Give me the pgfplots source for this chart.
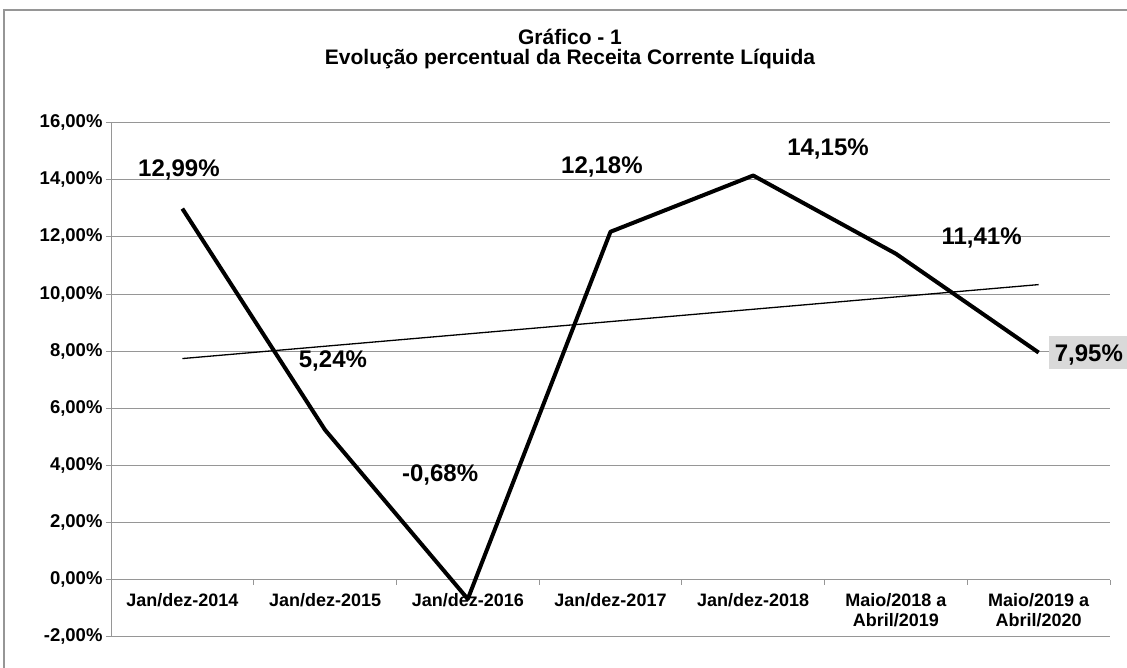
\documentclass[border=0pt]{standalone}
\usepackage{pgfplots}
\pgfplotsset{compat=1.18}
\usepackage{fontspec}
\setmainfont{Liberation Sans}[BoldFont={Liberation Sans Bold}]
\definecolor{gridgray}{RGB}{150,150,150}
\definecolor{boxgray}{RGB}{217,217,217}
\newcommand{\lblfont}{\bfseries\fontsize{24}{28}\selectfont}
\begin{document}
\begin{tikzpicture}[x=1pt,y=1pt]
\useasboundingbox (0,0) rectangle (1127,668);
\fill[white] (0,0) rectangle (1127,668);
\draw[gridgray, line width=1.2pt] (4,-2) -- (4,658) -- (1130,658);
\begin{axis}[
  at={(111pt,31.3pt)}, anchor=south west,
  scale only axis, width=999pt, height=514pt,
  xmin=-0.5, xmax=6.5, ymin=-2, ymax=16,
  axis y line*=left, axis x line*=middle,
  clip=false,
  ymajorgrids,
  grid style={gridgray, line width=1pt},
  axis line style={gridgray, line width=1pt},
  tick style={gridgray, line width=1pt},
  major tick length=5pt,
  tick align=outside,
  ytick={-2,0,2,4,6,8,10,12,14,16},
  yticklabels={{-2,00\%},{0,00\%},{2,00\%},{4,00\%},{6,00\%},{8,00\%},{10,00\%},{12,00\%},{14,00\%},{16,00\%}},
  yticklabel style={font=\bfseries\fontsize{18.5}{20}\selectfont, text=black},
  xtick={-0.5,0.5,1.5,2.5,3.5,4.5,5.5,6.5},
  xticklabels={},
  extra x ticks={0,1,2,3,4,5,6},
  extra x tick labels={Jan/dez-2014,Jan/dez-2015,Jan/dez-2016,Jan/dez-2017,Jan/dez-2018,{Maio/2018 a\\Abril/2019},{Maio/2019 a\\Abril/2020}},
  extra x tick style={major tick length=0pt, grid=none,
    xticklabel style={font=\bfseries\fontsize{18}{20}\selectfont, text=black, align=center, anchor=north, yshift=-10pt}},
]
\addplot[black, line width=4pt, line join=round] coordinates {(0,12.99) (1,5.24) (2,-0.68) (3,12.18) (4,14.15) (5,11.41) (6,7.95)};
\addplot[black, line width=1.3pt] coordinates {(0,7.74) (6,10.33)};
\node[font=\lblfont, anchor=base] at (axis cs:-0.024,14.13) {12,99\%};
\node[font=\lblfont, anchor=base] at (axis cs:1.055,7.41) {5,24\%};
\node[font=\lblfont, anchor=base] at (axis cs:1.806,3.44) {-0,68\%};
\node[font=\lblfont, anchor=base] at (axis cs:2.94,14.22) {12,18\%};
\node[font=\lblfont, anchor=base] at (axis cs:4.524,14.86) {14,15\%};
\node[font=\lblfont, anchor=base] at (axis cs:5.60,11.73) {11,41\%};
\node[font=\lblfont, anchor=base west, fill=boxgray, inner ysep=0pt, inner xsep=6pt, text height=26pt, text depth=7pt] at (axis cs:6.07,7.62) {7,95\%};
\end{axis}
\node[font=\bfseries\fontsize{21}{25}\selectfont, anchor=base] at (570,623) {Gráfico - 1};
\node[font=\bfseries\fontsize{21}{25}\selectfont, anchor=base] at (570,603) {Evolução percentual da Receita Corrente Líquida};
\end{tikzpicture}
\end{document}
